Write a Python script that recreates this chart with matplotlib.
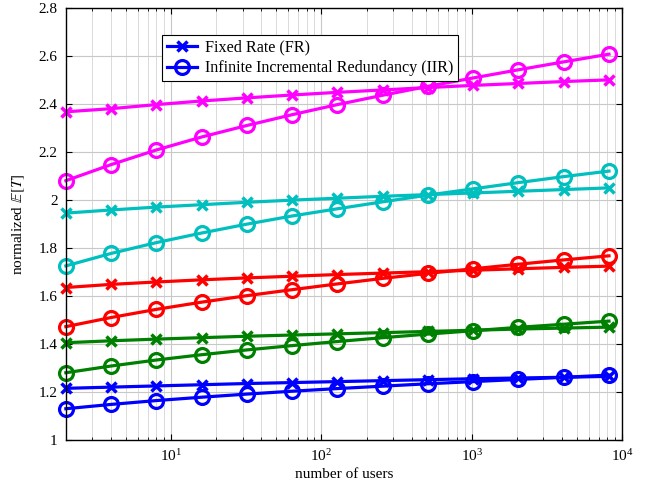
import numpy as np
import matplotlib
matplotlib.use("Agg")
import matplotlib.pyplot as plt

plt.rcParams["font.family"] = ["Liberation Serif", "DejaVu Serif"]
plt.rcParams["mathtext.fontset"] = "stix"

# number of users: 2, 4, ..., 8192
users = [2, 4, 8, 16, 32, 64, 128, 256, 512, 1024, 2048, 4096, 8192]

colors = ["magenta", "c", "red", "green", "blue"]

fr_curves = [
    [2.367, 2.38, 2.397, 2.412, 2.425, 2.437, 2.448, 2.458, 2.468, 2.477, 2.485, 2.493, 2.50],
    [1.945, 1.958, 1.97, 1.98, 1.99, 1.999, 2.007, 2.015, 2.022, 2.029, 2.036, 2.043, 2.05],
    [1.635, 1.648, 1.658, 1.667, 1.675, 1.682, 1.689, 1.695, 1.701, 1.707, 1.713, 1.719, 1.724],
    [1.405, 1.413, 1.42, 1.426, 1.432, 1.437, 1.442, 1.447, 1.452, 1.457, 1.462, 1.466, 1.47],
    [1.215, 1.22, 1.225, 1.23, 1.235, 1.239, 1.243, 1.247, 1.251, 1.255, 1.258, 1.261, 1.265],
]

iir_curves = [
    [2.08, 2.147, 2.208, 2.262, 2.31, 2.355, 2.397, 2.436, 2.473, 2.508, 2.542, 2.575, 2.607],
    [1.725, 1.777, 1.822, 1.862, 1.899, 1.933, 1.963, 1.992, 2.02, 2.046, 2.072, 2.097, 2.12],
    [1.472, 1.51, 1.544, 1.574, 1.601, 1.626, 1.65, 1.673, 1.694, 1.713, 1.732, 1.75, 1.767],
    [1.28, 1.308, 1.333, 1.355, 1.375, 1.393, 1.41, 1.426, 1.441, 1.455, 1.469, 1.482, 1.495],
    [1.13, 1.148, 1.164, 1.178, 1.191, 1.203, 1.214, 1.224, 1.234, 1.243, 1.252, 1.261, 1.27],
]

fig = plt.figure(figsize=(6.52, 4.91), dpi=100)
ax = fig.add_axes([0.101, 0.104, 0.853, 0.88])

for c, fr, iir in zip(colors, fr_curves, iir_curves):
    ax.plot(users, fr, color=c, lw=2.3, marker="x", ms=7, mew=2.5, clip_on=False, zorder=3)
    ax.plot(users, iir, color=c, lw=2.3, marker="o", ms=10, mew=2.3, mfc="none",
            clip_on=False, zorder=3)

# legend entries use the blue styling
ax.plot([], [], color="blue", lw=2.3, marker="x", ms=7, mew=2.5, label="Fixed Rate (FR)")
ax.plot([], [], color="blue", lw=2.3, marker="o", ms=10, mew=2.3, mfc="none",
        label="Infinite Incremental Redundancy (IIR)")

ax.set_xscale("log")
ax.set_xlim(2, 1e4)
ax.set_ylim(1, 2.8)
ax.set_yticks(np.arange(1, 2.81, 0.2))
ax.set_yticklabels(["1", "1.2", "1.4", "1.6", "1.8", "2", "2.2", "2.4", "2.6", "2.8"])
ax.grid(True, which="major", color="#c8c8c8", lw=0.8)
ax.grid(True, which="minor", color="#d4d4d4", lw=0.6)
ax.tick_params(which="both", direction="in", top=True, right=True, labelsize=11)
ax.tick_params(which="major", length=4, pad=6)
ax.tick_params(which="minor", length=2)
for s in ax.spines.values():
    s.set_linewidth(1.0)
    s.set_zorder(4)

ax.set_xlabel("number of users", fontsize=11, labelpad=3)
ax.set_ylabel(r"normalized $\mathbb{E}[T]$", fontsize=11, labelpad=8)

leg = ax.legend(loc="upper left", bbox_to_anchor=(0.1727, 0.9375), borderaxespad=0,
                fontsize=11.6, frameon=True, fancybox=False, edgecolor="black",
                framealpha=1, handlelength=1.9, handletextpad=0.45,
                borderpad=0.3, labelspacing=0.28)
leg.get_frame().set_linewidth(0.8)
leg.set_zorder(5)

fig.savefig("out.png", dpi=100)
